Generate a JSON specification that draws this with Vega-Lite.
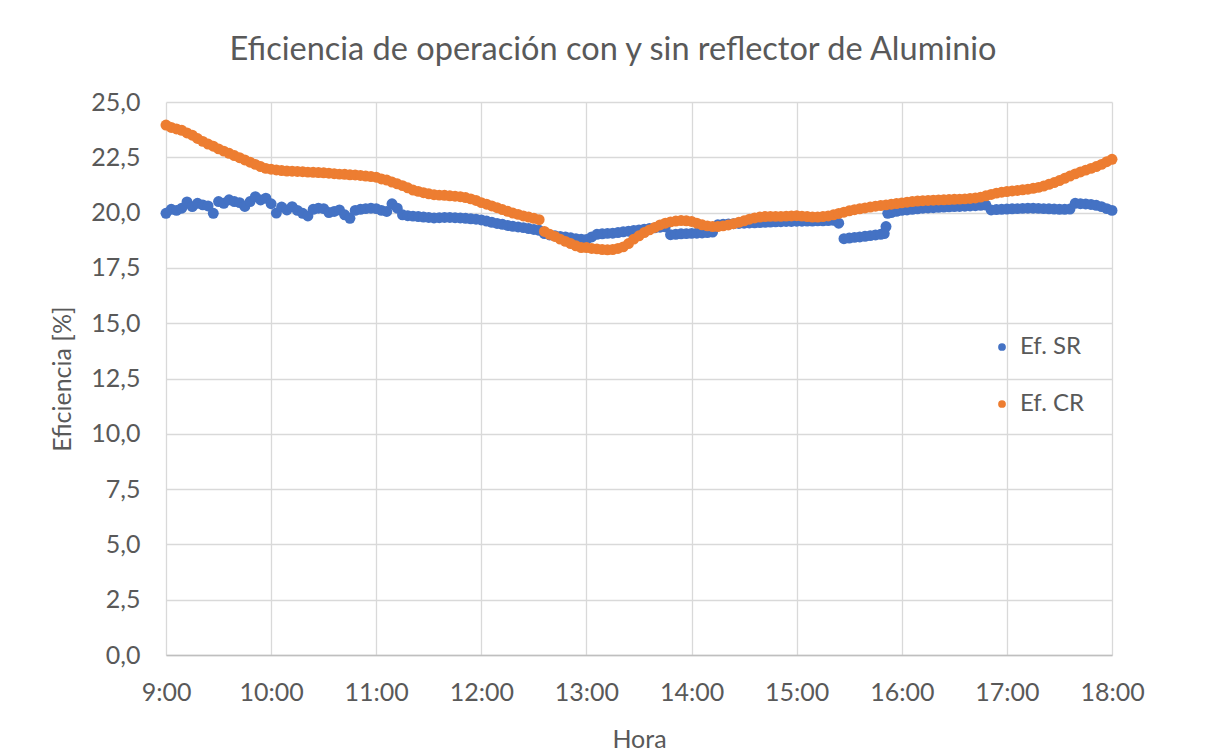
{
  "$schema": "https://vega.github.io/schema/vega-lite/v6.json",
  "width": 946,
  "height": 553,
  "autosize": {"type": "none"},
  "padding": {"left": 166, "top": 102, "right": 110, "bottom": 101},
  "background": "white",
  "config": {
    "font": "Lato",
    "view": {"stroke": null},
    "axis": {"labelColor": "#595959", "titleColor": "#595959", "labelFont": "Lato", "titleFont": "Lato", "labelFontSize": 25, "titleFontSize": 25, "titleFontWeight": "normal", "gridColor": "#D9D9D9", "gridWidth": 1.3, "ticks": false}
  },
  "title": {"text": "Eficiencia de operación con y sin reflector de Aluminio", "fontSize": 32.5, "fontWeight": "normal", "color": "#595959", "font": "Lato", "anchor": "middle", "frame": "group", "dx": -26, "offset": 24},
  "data": {"values": [
    {"t":0,"sr":19.97,"cr":23.96},{"t":3,"sr":20.15,"cr":23.85},{"t":6,"sr":20.1,"cr":23.78},{"t":9,"sr":20.2,"cr":23.72},{"t":12,"sr":20.48,"cr":23.6},{"t":15,"sr":20.27,"cr":23.5},{"t":18,"sr":20.42,"cr":23.35},{"t":21,"sr":20.35,"cr":23.22},{"t":24,"sr":20.3,"cr":23.1},{"t":27,"sr":19.97,"cr":23.0},
    {"t":30,"sr":20.5,"cr":22.88},{"t":33,"sr":20.42,"cr":22.78},{"t":36,"sr":20.58,"cr":22.68},{"t":39,"sr":20.5,"cr":22.58},{"t":42,"sr":20.45,"cr":22.48},{"t":45,"sr":20.28,"cr":22.38},{"t":48,"sr":20.5,"cr":22.28},{"t":51,"sr":20.72,"cr":22.18},{"t":54,"sr":20.57,"cr":22.08},{"t":57,"sr":20.65,"cr":22.0},
    {"t":60,"sr":20.4,"cr":21.96},{"t":63,"sr":19.98,"cr":21.93},{"t":66,"sr":20.25,"cr":21.9},{"t":69,"sr":20.12,"cr":21.88},{"t":72,"sr":20.27,"cr":21.87},{"t":75,"sr":20.1,"cr":21.86},{"t":78,"sr":19.97,"cr":21.85},{"t":81,"sr":19.85,"cr":21.83},{"t":84,"sr":20.15,"cr":21.82},{"t":87,"sr":20.2,"cr":21.81},
    {"t":90,"sr":20.18,"cr":21.8},{"t":93,"sr":20.0,"cr":21.78},{"t":96,"sr":20.05,"cr":21.76},{"t":99,"sr":20.12,"cr":21.74},{"t":102,"sr":19.9,"cr":21.73},{"t":105,"sr":19.74,"cr":21.71},{"t":108,"sr":20.1,"cr":21.7},{"t":111,"sr":20.15,"cr":21.68},{"t":114,"sr":20.18,"cr":21.65},{"t":117,"sr":20.2,"cr":21.63},
    {"t":120,"sr":20.18,"cr":21.6},{"t":123,"sr":20.1,"cr":21.52},{"t":126,"sr":20.05,"cr":21.47},{"t":129,"sr":20.4,"cr":21.38},{"t":132,"sr":20.2,"cr":21.3},{"t":135,"sr":19.9,"cr":21.22},{"t":138,"sr":19.86,"cr":21.12},{"t":141,"sr":19.84,"cr":21.02},{"t":144,"sr":19.82,"cr":20.96},{"t":147,"sr":19.8,"cr":20.9},
    {"t":150,"sr":19.78,"cr":20.85},{"t":153,"sr":19.76,"cr":20.81},{"t":156,"sr":19.77,"cr":20.79},{"t":159,"sr":19.78,"cr":20.78},{"t":162,"sr":19.78,"cr":20.76},{"t":165,"sr":19.77,"cr":20.74},{"t":168,"sr":19.76,"cr":20.72},{"t":171,"sr":19.74,"cr":20.68},{"t":174,"sr":19.72,"cr":20.62},{"t":177,"sr":19.7,"cr":20.55},
    {"t":180,"sr":19.67,"cr":20.45},{"t":183,"sr":19.62,"cr":20.38},{"t":186,"sr":19.56,"cr":20.3},{"t":189,"sr":19.51,"cr":20.22},{"t":192,"sr":19.47,"cr":20.14},{"t":195,"sr":19.42,"cr":20.06},{"t":198,"sr":19.38,"cr":19.98},{"t":201,"sr":19.35,"cr":19.92},{"t":204,"sr":19.32,"cr":19.85},{"t":207,"sr":19.28,"cr":19.8},
    {"t":210,"sr":19.24,"cr":19.74},{"t":213,"sr":19.2,"cr":19.68},{"t":216,"sr":19.05,"cr":19.15},{"t":219,"sr":18.99,"cr":19.02},{"t":222,"sr":18.95,"cr":18.92},{"t":225,"sr":18.92,"cr":18.8},{"t":228,"sr":18.9,"cr":18.7},{"t":231,"sr":18.86,"cr":18.6},{"t":234,"sr":18.82,"cr":18.5},{"t":237,"sr":18.8,"cr":18.42},
    {"t":240,"sr":18.78,"cr":18.42},{"t":243,"sr":18.9,"cr":18.38},{"t":246,"sr":19.02,"cr":18.36},{"t":249,"sr":19.04,"cr":18.33},{"t":252,"sr":19.06,"cr":18.32},{"t":255,"sr":19.07,"cr":18.33},{"t":258,"sr":19.1,"cr":18.38},{"t":261,"sr":19.13,"cr":18.45},{"t":264,"sr":19.16,"cr":18.6},{"t":267,"sr":19.19,"cr":18.8},
    {"t":270,"sr":19.22,"cr":18.95},{"t":273,"sr":19.25,"cr":19.1},{"t":276,"sr":19.28,"cr":19.22},{"t":279,"sr":19.31,"cr":19.33},{"t":282,"sr":19.34,"cr":19.44},{"t":285,"sr":19.36,"cr":19.52},{"t":288,"sr":19.0,"cr":19.58},{"t":291,"sr":19.02,"cr":19.62},{"t":294,"sr":19.04,"cr":19.64},{"t":297,"sr":19.05,"cr":19.63},
    {"t":300,"sr":19.06,"cr":19.6},{"t":303,"sr":19.07,"cr":19.52},{"t":306,"sr":19.08,"cr":19.45},{"t":309,"sr":19.1,"cr":19.4},{"t":312,"sr":19.12,"cr":19.37},{"t":315,"sr":19.45,"cr":19.37},{"t":318,"sr":19.47,"cr":19.4},{"t":321,"sr":19.49,"cr":19.44},{"t":324,"sr":19.5,"cr":19.5},{"t":327,"sr":19.51,"cr":19.56},
    {"t":330,"sr":19.52,"cr":19.63},{"t":333,"sr":19.53,"cr":19.7},{"t":336,"sr":19.54,"cr":19.76},{"t":339,"sr":19.55,"cr":19.8},{"t":342,"sr":19.56,"cr":19.82},{"t":345,"sr":19.57,"cr":19.83},{"t":348,"sr":19.58,"cr":19.83},{"t":351,"sr":19.59,"cr":19.83},{"t":354,"sr":19.6,"cr":19.84},{"t":357,"sr":19.6,"cr":19.85},
    {"t":360,"sr":19.61,"cr":19.86},{"t":363,"sr":19.61,"cr":19.84},{"t":366,"sr":19.62,"cr":19.82},{"t":369,"sr":19.62,"cr":19.8},{"t":372,"sr":19.63,"cr":19.8},{"t":375,"sr":19.63,"cr":19.82},{"t":378,"sr":19.64,"cr":19.85},{"t":381,"sr":19.65,"cr":19.9},{"t":384,"sr":19.52,"cr":19.96},{"t":387,"sr":18.82,"cr":20.02},
    {"t":390,"sr":18.85,"cr":20.08},{"t":393,"sr":18.88,"cr":20.13},{"t":396,"sr":18.9,"cr":20.17},{"t":399,"sr":18.93,"cr":20.21},{"t":402,"sr":18.96,"cr":20.25},{"t":405,"sr":18.99,"cr":20.29},{"t":408,"sr":19.02,"cr":20.32},{"t":410,"sr":19.05},{"t":411,"sr":19.37,"cr":20.35},{"t":412,"sr":19.97},{"t":414,"sr":20.0,"cr":20.38},{"t":417,"sr":20.06,"cr":20.41},
    {"t":420,"sr":20.1,"cr":20.44},{"t":423,"sr":20.12,"cr":20.47},{"t":426,"sr":20.15,"cr":20.5},{"t":429,"sr":20.17,"cr":20.52},{"t":432,"sr":20.2,"cr":20.54},{"t":435,"sr":20.21,"cr":20.55},{"t":438,"sr":20.22,"cr":20.56},{"t":441,"sr":20.24,"cr":20.57},{"t":444,"sr":20.25,"cr":20.58},{"t":447,"sr":20.26,"cr":20.59},
    {"t":450,"sr":20.27,"cr":20.6},{"t":453,"sr":20.28,"cr":20.61},{"t":456,"sr":20.29,"cr":20.62},{"t":459,"sr":20.3,"cr":20.64},{"t":462,"sr":20.31,"cr":20.66},{"t":465,"sr":20.33,"cr":20.7},{"t":468,"sr":20.34,"cr":20.76},{"t":471,"sr":20.12,"cr":20.82},{"t":474,"sr":20.14,"cr":20.88},{"t":477,"sr":20.15,"cr":20.92},
    {"t":480,"sr":20.16,"cr":20.95},{"t":483,"sr":20.17,"cr":20.98},{"t":486,"sr":20.18,"cr":21.0},{"t":489,"sr":20.19,"cr":21.03},{"t":492,"sr":20.2,"cr":21.06},{"t":495,"sr":20.2,"cr":21.1},{"t":498,"sr":20.19,"cr":21.14},{"t":501,"sr":20.18,"cr":21.2},{"t":504,"sr":20.17,"cr":21.28},{"t":507,"sr":20.16,"cr":21.36},
    {"t":510,"sr":20.15,"cr":21.45},{"t":513,"sr":20.15,"cr":21.55},{"t":516,"sr":20.16,"cr":21.65},{"t":519,"sr":20.42,"cr":21.75},{"t":522,"sr":20.4,"cr":21.84},{"t":525,"sr":20.39,"cr":21.92},{"t":528,"sr":20.37,"cr":22.0},{"t":531,"sr":20.33,"cr":22.08},{"t":534,"sr":20.27,"cr":22.18},{"t":537,"sr":20.18,"cr":22.3},
    {"t":540,"sr":20.1,"cr":22.41}
  ]},
  "transform": [{"fold": ["sr", "cr"], "as": ["serie", "v"]}],
  "mark": {"type": "circle", "size": 120, "opacity": 1},
  "encoding": {
    "x": {"field": "t", "type": "quantitative", "scale": {"domain": [0, 540], "nice": false, "zero": false},
      "axis": {"values": [0,60,120,180,240,300,360,420,480,540], "labelExpr": "(9 + datum.value/60) + ':00'", "title": "Hora", "labelPadding": 25, "titlePadding": 22, "domainColor": "#BFBFBF", "domainWidth": 1.5, "labelFlush": false}},
    "y": {"field": "v", "type": "quantitative", "scale": {"domain": [0, 25], "nice": false},
      "axis": {"values": [0,2.5,5,7.5,10,12.5,15,17.5,20,22.5,25], "labelExpr": "replace(format(datum.value, '.1f'), '.', ',')", "title": "Eficiencia [%]", "labelPadding": 26, "titlePadding": 15, "domain": false}},
    "color": {"field": "serie", "type": "nominal", "scale": {"domain": ["sr", "cr"], "range": ["#4472C4", "#ED7D31"]},
      "legend": {"title": null, "orient": "none", "legendX": 824, "legendY": 233, "labelExpr": "datum.label == 'sr' ? 'Ef. SR' : 'Ef. CR'", "labelFontSize": 24, "labelColor": "#595959", "labelFont": "Lato", "symbolType": "circle", "symbolSize": 60, "rowPadding": 33, "labelOffset": 6}},
    "order": {"field": "serie", "sort": "descending"}
  }
}
